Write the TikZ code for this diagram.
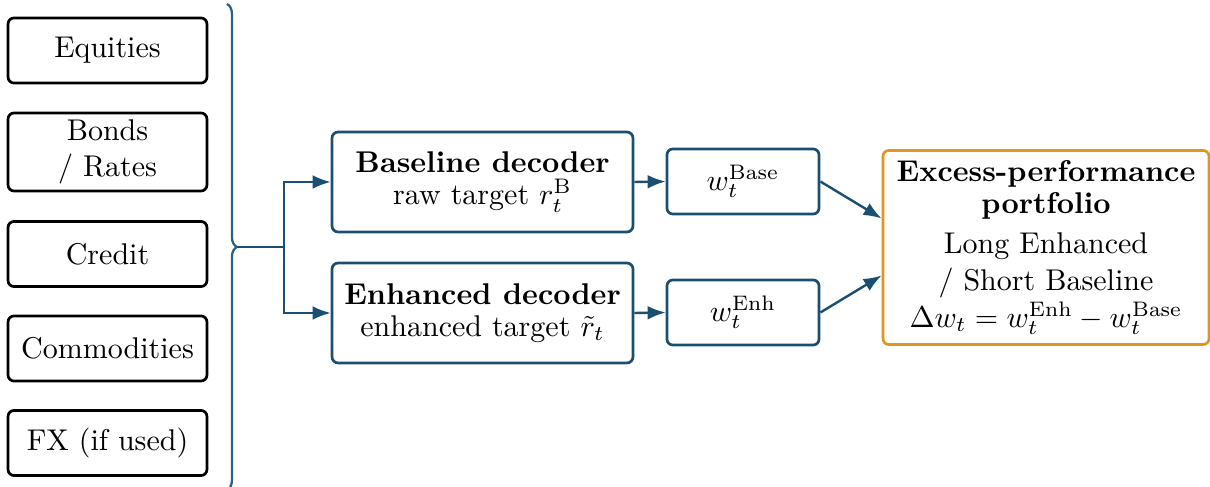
\documentclass[tikz,border=0pt]{standalone}
\usetikzlibrary{arrows.meta,decorations.pathreplacing,calc}
\definecolor{dblue}{HTML}{1B4F72}
\definecolor{lblue}{HTML}{2A6184}
\definecolor{dorange}{HTML}{E0961E}
\tikzset{
  asset/.style={draw=black, line width=0.9pt, rounded corners=2pt, minimum width=66.3pt, minimum height=21.7pt, align=center, inner sep=2pt},
  decbox/.style={draw=dblue, line width=0.9pt, rounded corners=2pt, minimum width=100.3pt, minimum height=33.3pt, align=center, inner sep=2pt},
  wbox/.style={draw=dblue, line width=0.9pt, rounded corners=2pt, minimum width=50.7pt, minimum height=21.7pt, align=center, inner sep=2pt},
  exbox/.style={draw=dorange, line width=0.9pt, rounded corners=2pt, minimum width=108.7pt, minimum height=64.7pt, align=center, inner sep=2pt},
  flow/.style={draw=dblue, line width=0.8pt, -{Latex[length=6pt,width=4.6pt]}},
  plain/.style={draw=dblue, line width=0.8pt},
}
\begin{document}
\begin{tikzpicture}[x=0.33333pt, y=-0.33333pt]
\useasboundingbox (0,0) rectangle (1210,487);
% asset class boxes
\node[asset] (eq) at (107.5,50.5) {Equities};
\node[asset, minimum height=26pt] (bo) at (107.5,152) {Bonds\\/ Rates};
\node[asset] (cr) at (107.5,254) {Credit};
\node[asset] (co) at (107.5,348.5) {Commodities};
\node[asset] (fx) at (107.5,443) {FX (if used)};
% brace
\coordinate (btop) at (227,4);
\coordinate (bbot) at (227,490);
\draw[draw=lblue, line width=0.75pt, decorate, decoration={brace, amplitude=3.3pt}] (btop) -- (bbot);
\coordinate (tip) at (237,247);
\coordinate (split) at (284,247);
% decoders
\node[decbox] (base) at (482.5,182) {\textbf{Baseline decoder}\\[-1.3pt] raw target $r_t^{\mathrm{B}}$};
\node[decbox] (enh) at (482.5,313) {\textbf{Enhanced decoder}\\[-1.3pt] enhanced target $\tilde r_t$};
% weights
\node[wbox] (wb) at (743,181.5) {$w_t^{\mathrm{Base}}$};
\node[wbox] (we) at (743,312.5) {$w_t^{\mathrm{Enh}}$};
% excess
\node[exbox] (ex) at (1046,247.5) {\textbf{Excess-performance}\\[-1.3pt]\textbf{portfolio}\\[1.3pt]Long Enhanced\\[0.4pt]/ Short Baseline\\[0.4pt]$\Delta w_t = w_t^{\mathrm{Enh}} - w_t^{\mathrm{Base}}$};
% connectors
\draw[plain] (tip) -- (split);
\draw[flow] (split) |- (base.west);
\draw[flow] (split) |- (enh.west);
\draw[flow] (base.east) -- (wb.west);
\draw[flow] (enh.east) -- (we.west);
\draw[flow] (wb.east) -- ($(ex.west)+(0,-29)$);
\draw[flow] (we.east) -- ($(ex.west)+(0,28)$);
\end{tikzpicture}
\end{document}
